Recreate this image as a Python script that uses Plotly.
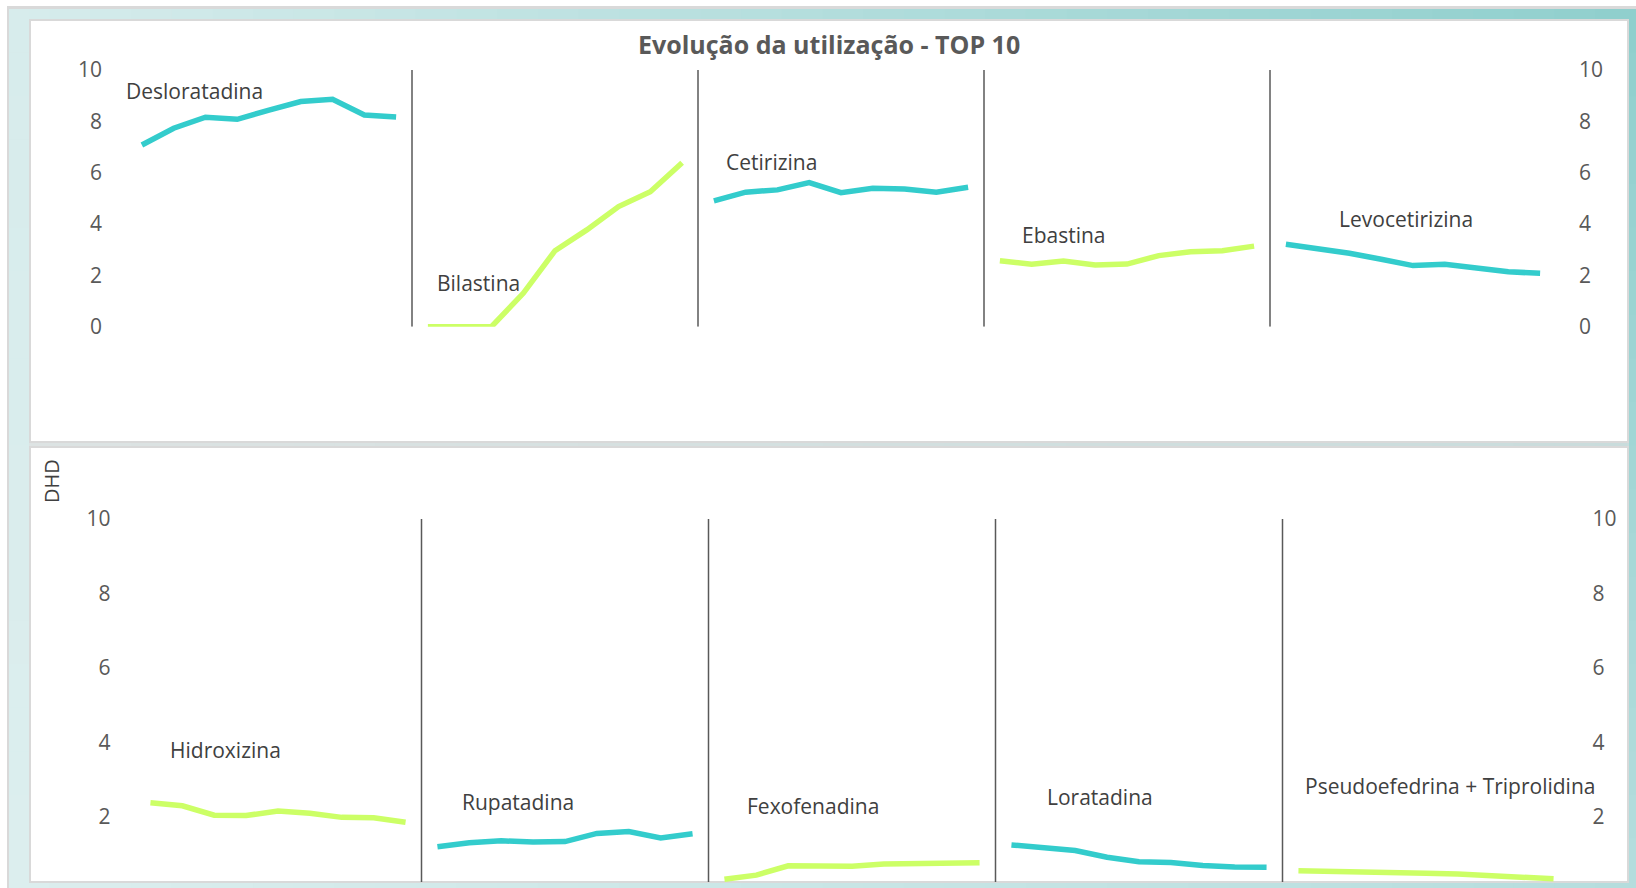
import plotly.graph_objects as go

W, H = 1636, 888

# ---------------- data ----------------
years = ["2013", "2014", "2015", "2016", "2017", "2018", "2019", "2020", "2021"]

top_drugs = ["Desloratadina", "Bilastina", "Cetirizina", "Ebastina", "Levocetirizina"]
bottom_drugs = ["Hidroxizina", "Rupatadina", "Fexofenadina", "Loratadina",
                "Pseudoefedrina + Triprolidina"]

desloratadina = [7.08, 7.73, 8.16, 8.08, 8.44, 8.77, 8.86, 8.25, 8.17]
bilastina = [0.0, 0.0, 0.0, 1.30, 2.96, 3.77, 4.68, 5.26, 6.39]
cetirizina = [4.90, 5.24, 5.33, 5.61, 5.22, 5.39, 5.36, 5.24, 5.43]
ebastina = [2.57, 2.43, 2.56, 2.40, 2.44, 2.77, 2.92, 2.96, 3.14]
levocetirizina = [3.21, 3.05, 2.86, 2.63, 2.38, 2.43, 2.31, 2.14, 2.08]

hidroxizina = [2.38, 2.30, 2.05, 2.04, 2.16, 2.10, 1.99, 1.98, 1.86]
rupatadina = [1.20, 1.31, 1.36, 1.33, 1.34, 1.56, 1.61, 1.44, 1.55]
fexofenadina = [0.33, 0.44, 0.69, 0.68, 0.68, 0.74, 0.74, 0.74, 0.77]
loratadina = [1.25, 1.19, 1.10, 0.92, 0.80, 0.78, 0.70, 0.66, 0.65]
pseudo_triprolidina = [0.56, 0.55, 0.54, 0.51, 0.49, 0.47, 0.43, 0.38, 0.34]

top_values = [desloratadina, bilastina, cetirizina, ebastina, levocetirizina]
bottom_values = [hidroxizina, rupatadina, fexofenadina, loratadina, pseudo_triprolidina]

y_ticks_top = [0, 2, 4, 6, 8, 10]
y_ticks_bottom = [2, 4, 6, 8, 10]

# ---------------- styles / positions ----------------
TEAL = "#33CCCC"
GREEN = "#CCFF66"
top_colors = [TEAL, GREEN, TEAL, GREEN, TEAL]
bottom_colors = [GREEN, TEAL, GREEN, TEAL, GREEN]

# label anchor (category offset, value) of each series name label
top_label_pos = [(-0.47, 9.18), (9.32, 1.70), (18.41, 6.42), (27.74, 3.57), (37.70, 4.20)]
bottom_label_pos = [(0.66, 3.80), (9.81, 2.39), (18.74, 2.30), (28.14, 2.54), (36.24, 2.83)]
LABEL_SHIFT = -3

FONT = "Open Sans"
TICK_COLOR = "#595959"
LABEL_COLOR = "#404040"


def px(x):
    return x / W


def py(y):
    return 1 - y / H


n = len(years)
fig = go.Figure()

for k, (name, vals) in enumerate(zip(top_drugs, top_values)):
    fig.add_trace(go.Scatter(
        x=[k * n + i for i in range(n)], y=vals, name=name, mode="lines",
        line=dict(color=top_colors[k], width=5.5), xaxis="x", yaxis="y",
        hovertext=years, showlegend=False))

for k, (name, vals) in enumerate(zip(bottom_drugs, bottom_values)):
    fig.add_trace(go.Scatter(
        x=[k * n + i for i in range(n)], y=vals, name=name, mode="lines",
        line=dict(color=bottom_colors[k], width=5.5), xaxis="x3", yaxis="y3",
        hovertext=years, showlegend=False))

# dummy traces so right-side axes render
fig.add_trace(go.Scatter(x=[None], y=[None], xaxis="x", yaxis="y2", showlegend=False,
                         hoverinfo="skip"))
fig.add_trace(go.Scatter(x=[None], y=[None], xaxis="x3", yaxis="y4", showlegend=False,
                         hoverinfo="skip"))

# ---------------- background decoration ----------------
shapes = []


def hexmix(c1, c2, t):
    a = [int(c1[i:i + 2], 16) for i in (1, 3, 5)]
    b = [int(c2[i:i + 2], 16) for i in (1, 3, 5)]
    return "#" + "".join(f"{round(a[j] + (b[j] - a[j]) * t):02x}" for j in range(3))


def rect(x0, y0, x1, y1, fill, line=None, lw=0):
    shapes.append(dict(type="rect", xref="paper", yref="paper",
                       x0=px(x0), x1=px(x1), y0=py(y1), y1=py(y0),
                       fillcolor=fill, line=dict(width=lw, color=line or fill),
                       layer="below"))


# outer frame line
rect(7, 6, 1640, 892, "#D9D9D9")
# gradient frame
TL, TR, BL, BR = "#D7ECEC", "#8FCFCD", "#DCEEEE", "#B5DDDD"
steps = 40
for s in range(steps):
    x0 = 9 + (1636 - 9) * s / steps
    x1 = 9 + (1636 - 9) * (s + 1) / steps + 1
    t = (s + 0.5) / steps
    rect(x0, 9, x1, 20, hexmix(TL, TR, t))
    rect(x0, 882, x1, 890, hexmix(BL, BR, t))
    rect(x0, 443, x1, 446, hexmix("#DDE3E3", "#C9DCDC", t))
for s in range(20):
    y0 = 9 + (882 - 9) * s / 20
    y1 = 9 + (882 - 9) * (s + 1) / 20 + 1
    t = (s + 0.5) / 20
    rect(9, y0, 29, y1, hexmix(TL, BL, t))
    rect(1629, y0, 1640, y1, hexmix(TR, BR, t))
# panels
rect(30, 20, 1628, 442, "#FFFFFF", "#D9D9D9", 2)
rect(30, 447, 1628, 882, "#FFFFFF", "#D9D9D9", 2)

# separators between drugs
for k in range(1, 5):
    xs = k * n - 0.5
    shapes.append(dict(type="line", xref="x", yref="y", x0=xs, x1=xs, y0=0, y1=10,
                       line=dict(color="#595959", width=1.5)))
    shapes.append(dict(type="line", xref="x3", yref="y3", x0=xs, x1=xs, y0=0, y1=10,
                       line=dict(color="#595959", width=1.5)))

# ---------------- annotations ----------------
annotations = []
for name, (lx, ly) in zip(top_drugs, top_label_pos):
    annotations.append(dict(text=name, x=lx, y=ly, xref="x", yref="y", xshift=LABEL_SHIFT,
                            xanchor="left", yanchor="middle", showarrow=False,
                            font=dict(family=FONT, size=21, color=LABEL_COLOR)))
for name, (lx, ly) in zip(bottom_drugs, bottom_label_pos):
    annotations.append(dict(text=name, x=lx, y=ly, xref="x3", yref="y3", xshift=LABEL_SHIFT,
                            xanchor="left", yanchor="middle", showarrow=False,
                            font=dict(family=FONT, size=21, color=LABEL_COLOR)))

annotations.append(dict(text="<b>Evolução da utilização - TOP 10</b>",
                        x=px(829), y=py(44), xref="paper", yref="paper",
                        xanchor="center", yanchor="middle", showarrow=False,
                        font=dict(family=FONT, size=25, color=TICK_COLOR)))
annotations.append(dict(text="DHD", x=px(52), y=py(481), xref="paper", yref="paper",
                        xanchor="center", yanchor="middle", showarrow=False, textangle=-90,
                        font=dict(family=FONT, size=20, color=LABEL_COLOR)))

# ---------------- axes ----------------
xr = [-0.5, len(top_drugs) * n - 0.5]
tickfont = dict(family=FONT, size=21, color=TICK_COLOR)


def xax(domain, anchor):
    return dict(domain=domain, anchor=anchor, range=xr, showgrid=False, zeroline=False,
                showline=False, showticklabels=False, ticks="", fixedrange=True,
                automargin=False)


def yax(domain, rng, vals, side, anchor, overlay=None, standoff=21):
    d = dict(domain=domain, range=rng, tickvals=vals, ticktext=[str(v) for v in vals],
             showgrid=False, zeroline=False, showline=False, ticks="", anchor=anchor,
             tickfont=tickfont, side=side, ticklabelstandoff=standoff, fixedrange=True,
             automargin=False)
    if overlay:
        d["overlaying"] = overlay
    return d


top_dom_y = [py(326.7), py(70)]
bot_dom_y = [py(882), py(519)]
bot_range = [(891.5 - 882) / 37.25, 10]

fig.update_layout(
    template="none",
    width=W, height=H, autosize=False,
    margin=dict(l=0, r=0, t=0, b=0, pad=0, autoexpand=False),
    paper_bgcolor="#FFFFFF", plot_bgcolor="rgba(0,0,0,0)",
    showlegend=False,
    xaxis=xax([px(126), px(1556)], "y"),
    yaxis=yax(top_dom_y, [0, 10], y_ticks_top, "left", "x", standoff=23),
    yaxis2=yax(top_dom_y, [0, 10], y_ticks_top, "right", "x", overlay="y", standoff=22),
    xaxis3=xax([px(134.5), px(1569.5)], "y3"),
    yaxis3=yax(bot_dom_y, bot_range, y_ticks_bottom, "left", "x3", standoff=23),
    yaxis4=yax(bot_dom_y, bot_range, y_ticks_bottom, "right", "x3", overlay="y3", standoff=22),
    shapes=shapes,
    annotations=annotations,
)

fig.write_html("out.html")
